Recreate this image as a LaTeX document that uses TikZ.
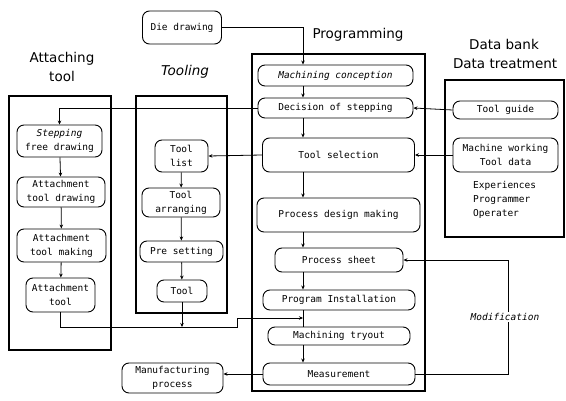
\documentclass[tikz,border=0pt]{standalone}
\usepackage{fontspec}
\setmainfont{Liberation Sans}
\newfontfamily\boxfont{DejaVu Sans Mono}
\newfontfamily\headfont{DejaVu Sans}
\usepackage{tikz}
\usetikzlibrary{arrows.meta}
\usetikzlibrary{calc,positioning}

\begin{document}
\begin{tikzpicture}[>={Stealth[length=4pt,width=3.5pt]}, x=1pt, y=-1pt,
    box/.style={draw, line width=0.9pt, rounded corners=7pt, align=center, inner sep=1pt,
        font=\boxfont\fontsize{9.5}{14}\selectfont},
    frame/.style={draw, line width=2.4pt},
    head/.style={align=center, font=\headfont\fontsize{13.5}{19}\selectfont},
    link/.style={line width=0.8pt}]

    \useasboundingbox (0,0) rectangle (566,401);

    % frames
    \draw[frame] (9,96) rectangle (111,350);
    \draw[frame] (136,96) rectangle (227,313);
    \draw[frame] (252,54) rectangle (425,391);
    \draw[frame] (445,80) rectangle (564,237);

    % headings
    \node[head] (hattach) at (62,67) {Attaching\\tool};
    \node[head, font=\headfont\itshape\fontsize{13.5}{19}\selectfont] (htooling) at (185,72) {Tooling};
    \node[head] (hprog) at (358,35) {Programming};
    \node[head] (hdata) at (504,54) {Data bank\\\,Data treatment};

    % programming
    \node[box, minimum width=79pt, minimum height=33pt] (die) at (182,27.5) {Die drawing};
    \node[box, minimum width=155pt, minimum height=21pt] (mconc) at (335.5,75.5) {\itshape Machining conception};
    \node[box, minimum width=155pt, minimum height=20pt] (decision) at (335.5,108) {Decision of stepping};
    \node[box, minimum width=152pt, minimum height=34pt] (toolsel) at (338.5,155) {Tool selection};
    \node[box, minimum width=163pt, minimum height=34pt] (pdesign) at (338.5,215) {Process design making};
    \node[box, minimum width=128pt, minimum height=24pt] (psheet) at (339,260) {Process sheet};
    \node[box, minimum width=152pt, minimum height=20pt] (pinstall) at (339,300) {Program Installation};
    \node[box, minimum width=142pt, minimum height=18pt] (tryout) at (339,336) {Machining tryout};
    \node[box, minimum width=152pt, minimum height=22pt] (measure) at (339,374) {Measurement};

    % attaching tool
    \node[box, minimum width=85pt, minimum height=32pt] (stepfree) at (59.5,141) {\itshape Stepping\\free drawing};
    \node[box, minimum width=88pt, minimum height=30pt] (attdraw) at (61,192) {Attachment\\tool drawing};
    \node[box, minimum width=89pt, minimum height=33pt] (attmake) at (61.5,245.5) {Attachment\\tool making};
    \node[box, minimum width=69pt, minimum height=34pt] (atttool) at (60.5,295) {Attachment\\tool};

    % tooling
    \node[box, minimum width=53pt, minimum height=32pt] (toollist) at (181.5,156) {Tool\\list};
    \node[box, minimum width=78pt, minimum height=29pt] (arrange) at (181,202.5) {Tool\\arranging};
    \node[box, minimum width=83pt, minimum height=21pt] (preset) at (181.5,251.5) {Pre setting};
    \node[box, minimum width=50pt, minimum height=22pt] (tool) at (182,291) {Tool};

    % data bank
    \node[box, minimum width=105pt, minimum height=18pt] (guide) at (505.5,110) {Tool guide};
    \node[box, minimum width=105pt, minimum height=34pt] (machine) at (505.5,155) {Machine working\\Tool data};
    \node[align=left, anchor=north west, inner sep=0pt, font=\boxfont\fontsize{9.5}{14}\selectfont]
        (people) at (473,181) {Experiences\\Programmer\\Operater};

    \node[box, minimum width=101pt, minimum height=30pt] (manuf) at (172.5,378) {Manufacturing\\process};

    \coordinate (spine) at (303,0);
    \coordinate (jn) at (237,327);
    \coordinate (merge) at (303,318);

    % programming flow
    \draw[link,->] (die.east) -| (mconc.north -| spine);
    \draw[link,->] (mconc.south -| spine) -- (decision.north -| spine);
    \draw[link,->] (decision.south -| spine) -- (toolsel.north -| spine);
    \draw[link,->] (toolsel.south -| spine) -- (pdesign.north -| spine);
    \draw[link,->] (pdesign.south -| spine) -- (psheet.north -| spine);
    \draw[link,->] (psheet.south -| spine) -- (pinstall.north -| spine);
    \draw[link] (pinstall.south -| spine) -- (tryout.north -| spine);
    \draw[link,->] (tryout.south -| spine) -- (measure.north -| spine);

    % attaching flow
    \draw[link,->] (decision.west) -| (stepfree.north);
    \draw[link,->] (stepfree) -- (attdraw);
    \draw[link,->] (attdraw) -- (attmake);
    \draw[link,->] (attmake) -- (atttool);
    \draw[link,->] (atttool.south) |- (jn) |- (merge);

    % tooling flow
    \draw[link,->] (toolsel.west) -- (toollist.east);
    \draw[link,->] (toollist) -- (arrange);
    \draw[link,->] (arrange) -- (preset);
    \draw[link,->] (preset) -- (tool);
    \draw[link,->] (tool.south) -- (tool.south |- jn);

    % data bank
    \draw[link,->] (guide.west) -- (decision.east);
    \draw[link,->] (machine.west) -- (toolsel.east);

    % outputs
    \draw[link,->] (measure.west) -- (measure.west -| manuf.east);
    \draw[link,->] (measure.east) -- ++(93,0) |- (psheet.east);
    \node[fill=white, inner sep=1pt, font=\boxfont\itshape\fontsize{9.5}{12}\selectfont] (modif) at (505,317) {Modification};

\end{tikzpicture}
\end{document}
